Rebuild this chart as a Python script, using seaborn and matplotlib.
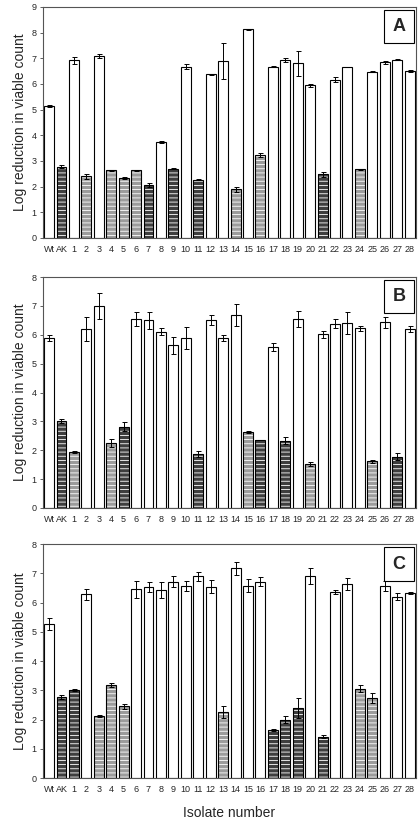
import matplotlib
matplotlib.use("Agg")
import matplotlib.pyplot as plt
import seaborn as sns
import pandas as pd
import numpy as np

isolates = ["Wt", "AK"] + [str(i) for i in range(1, 29)]

# group codes: 0 = white (high), 1 = dark hatched, 2 = light hatched
vals_a = [5.15, 2.78, 6.92, 2.40, 7.08, 2.63, 2.33, 2.63, 2.08, 3.73,
          2.70, 6.68, 2.27, 6.37, 6.88, 1.90, 8.13, 3.25, 6.68, 6.95,
          6.80, 5.95, 2.48, 6.17, 6.65, 2.67, 6.48, 6.85, 6.95, 6.50]
errs_a = [0.05, 0.07, 0.15, 0.10, 0.07, 0.03, 0.03, 0.03, 0.08, 0.03,
          0.03, 0.08, 0.03, 0.03, 0.70, 0.10, 0.02, 0.08, 0.03, 0.08,
          0.50, 0.06, 0.10, 0.10, 0.00, 0.03, 0.03, 0.06, 0.02, 0.05]
groups_a = [0, 1, 0, 2, 0, 2, 2, 2, 1, 0,
            1, 0, 1, 0, 0, 2, 0, 2, 0, 0,
            0, 0, 1, 0, 0, 2, 0, 0, 0, 0]

vals_b = [5.90, 3.00, 1.93, 6.20, 7.00, 2.25, 2.82, 6.55, 6.50, 6.10,
          5.63, 5.90, 1.87, 6.52, 5.90, 6.67, 2.63, 2.35, 5.58, 2.33,
          6.55, 1.53, 6.02, 6.38, 6.40, 6.22, 1.62, 6.43, 1.78, 6.20]
errs_b = [0.10, 0.07, 0.03, 0.40, 0.45, 0.13, 0.15, 0.25, 0.30, 0.12,
          0.30, 0.38, 0.10, 0.18, 0.10, 0.38, 0.03, 0.01, 0.13, 0.12,
          0.27, 0.07, 0.12, 0.15, 0.38, 0.10, 0.05, 0.18, 0.13, 0.10]
groups_b = [0, 1, 2, 0, 0, 2, 1, 0, 0, 0,
            0, 0, 1, 0, 0, 0, 2, 1, 0, 1,
            0, 2, 0, 0, 0, 0, 2, 0, 1, 0]

vals_c = [5.28, 2.77, 3.02, 6.28, 2.12, 3.18, 2.45, 6.45, 6.53, 6.42,
          6.72, 6.58, 6.90, 6.55, 2.25, 7.18, 6.58, 6.72, 1.65, 2.00,
          2.40, 6.90, 1.42, 6.37, 6.63, 3.05, 2.73, 6.57, 6.20, 6.33]
errs_c = [0.20, 0.07, 0.04, 0.20, 0.04, 0.06, 0.08, 0.28, 0.18, 0.27,
          0.20, 0.17, 0.15, 0.23, 0.20, 0.22, 0.22, 0.15, 0.03, 0.12,
          0.35, 0.27, 0.05, 0.07, 0.20, 0.12, 0.18, 0.18, 0.12, 0.05]
groups_c = [0, 1, 1, 0, 2, 2, 2, 0, 0, 0,
            0, 0, 0, 0, 2, 0, 0, 0, 1, 1,
            1, 0, 1, 0, 0, 2, 2, 0, 0, 0]

panels = [("A", vals_a, errs_a, groups_a, 9),
          ("B", vals_b, errs_b, groups_b, 8),
          ("C", vals_c, errs_c, groups_c, 8)]

fill_colors = {0: "#ffffff", 1: "#3e3e3e", 2: "#9c9c9c"}

sns.set_style("ticks")
plt.rcParams["font.family"] = ["Liberation Sans", "DejaVu Sans"]
plt.rcParams["hatch.linewidth"] = 0.6

fig = plt.figure(figsize=(4.2, 8.22), dpi=100)
boxes = [(0.102, 0.7105, 0.888, 0.281),
         (0.102, 0.382, 0.888, 0.281),
         (0.102, 0.0535, 0.888, 0.2845)]

for (letter, vals, errs, groups, ytop), box in zip(panels, boxes):
    ax = fig.add_axes(box)
    df = pd.DataFrame({"isolate": isolates, "value": vals,
                       "err": errs, "group": groups})
    # filled layer, hatched ones get thin white lines
    sns.barplot(data=df, x="isolate", y="value", hue="group",
                palette=fill_colors, dodge=False, width=0.8,
                edgecolor="white", linewidth=0, legend=False, ax=ax)
    for p in ax.patches:
        if p.get_facecolor()[0] < 0.9:
            p.set_hatch("----")
    # black outlines on top
    sns.barplot(data=df, x="isolate", y="value", fill=False,
                color="black", width=0.8, linewidth=0.8,
                errorbar=None, ax=ax)
    ax.errorbar(np.arange(len(isolates)), df["value"], yerr=df["err"],
                fmt="none", ecolor="black", elinewidth=0.7,
                capsize=1.8, capthick=0.7)

    ax.set_xlim(-0.5, len(isolates) - 0.5)
    ax.set_ylim(0, ytop)
    ax.set_yticks(range(0, ytop + 1))
    ax.set_xlabel("")
    ax.set_ylabel("Log reduction in viable count", fontsize=10, labelpad=3)
    ax.tick_params(axis="both", labelsize=6.5, length=2.5, width=0.6,
                   pad=2, color="#444444")
    ax.tick_params(axis="x", length=0, pad=5)
    for s in ax.spines.values():
        s.set_visible(True)
        s.set_color("#555555")
        s.set_linewidth(0.8)
    ax.text(0.955, 0.915, letter, transform=ax.transAxes, fontsize=13,
            fontweight="bold", ha="center", va="center",
            bbox=dict(boxstyle="square,pad=0.45", fc="white",
                      ec="black", lw=0.8))
    if letter == "C":
        ax.set_xlabel("Isolate number", fontsize=10, labelpad=9)

fig.savefig("out.png", dpi=100, facecolor="white")
